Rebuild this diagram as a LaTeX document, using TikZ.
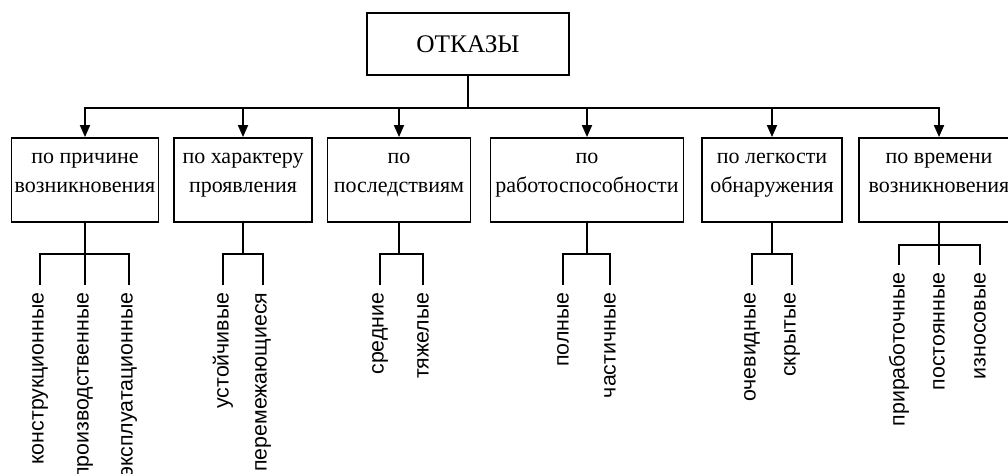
\documentclass[tikz,border=0pt]{standalone}
\usepackage{fontspec}
\setmainfont{Liberation Serif}
\newfontfamily\leaffont{Liberation Sans}
\usetikzlibrary{arrows.meta}

\begin{document}
\begin{tikzpicture}[x=0.75pt, y=-0.75pt, line width=1.4pt,
  cat/.style={draw, inner sep=0pt, minimum height=63pt, text depth=11pt, align=center, font=\fontsize{16.5}{22}\selectfont},
  leaf/.style={rotate=90, anchor=east, inner sep=5pt, font=\leaffont\fontsize{16}{19}\selectfont},
  arr/.style={-{Triangle[width=7.5pt,length=9pt]}}]
  \useasboundingbox (0,0) rectangle (1008,474);
  % root
  \node[draw, minimum width=151.5pt, minimum height=46.5pt, font=\fontsize{19}{22}\selectfont] (otkazy) at (468,44) {ОТКАЗЫ};
  % categories
  \node[cat, minimum width=110.25pt] (prich) at (85,180) {по причине\\возникновения};
  \node[cat, minimum width=103.5pt] (harakt) at (243,180) {по характеру\\проявления};
  \node[cat, minimum width=107.25pt] (posl) at (399,180) {по\\последствиям};
  \node[cat, minimum width=144.75pt] (rabot) at (587,180) {по\\работоспособности};
  \node[cat, minimum width=105pt] (legk) at (772,180) {по легкости\\обнаружения};
  \node[cat, minimum width=120pt] (vrem) at (939,180) {по времени\\возникновения};
  \draw (otkazy.south) -- ++(0,32) coordinate (bus);
  \draw[arr] (bus) -| (prich.north);
  \draw[arr] (bus) -| (harakt.north);
  \draw[arr] (bus) -| (posl.north);
  \draw[arr] (bus) -| (rabot.north);
  \draw[arr] (bus) -| (legk.north);
  \draw[arr] (bus) -| (vrem.north);
  % leaves
  \node[leaf] (kons) at (40,285) {конструкционные};
  \node[leaf] (proizv) at (85,285) {производственные};
  \node[leaf] (ekspl) at (129,285) {эксплуатационные};
  \node[leaf] (ust) at (223,285) {устойчивые};
  \node[leaf] (perem) at (263,285) {перемежающиеся};
  \node[leaf] (sred) at (380,285) {средние};
  \node[leaf] (tyazh) at (423,285) {тяжелые};
  \node[leaf] (poln) at (563,285) {полные};
  \node[leaf] (chast) at (610,285) {частичные};
  \node[leaf] (ochev) at (752,285) {очевидные};
  \node[leaf] (skryt) at (792,285) {скрытые};
  \node[leaf] (prirab) at (899,265) {приработочные};
  \node[leaf] (postoy) at (939,265) {постоянные};
  \node[leaf] (iznos) at (980,265) {износовые};
  \draw (prich.south) -- ++(0,31) coordinate (b1);
  \draw (b1) -| (kons.east); \draw (b1) -- (proizv.east); \draw (b1) -| (ekspl.east);
  \draw (harakt.south) -- ++(0,31) coordinate (b2);
  \draw (b2) -| (ust.east); \draw (b2) -| (perem.east);
  \draw (posl.south) -- ++(0,31) coordinate (b3);
  \draw (b3) -| (sred.east); \draw (b3) -| (tyazh.east);
  \draw (rabot.south) -- ++(0,31) coordinate (b4);
  \draw (b4) -| (poln.east); \draw (b4) -| (chast.east);
  \draw (legk.south) -- ++(0,31) coordinate (b5);
  \draw (b5) -| (ochev.east); \draw (b5) -| (skryt.east);
  \draw (vrem.south) -- ++(0,22) coordinate (b6);
  \draw (b6) -| (prirab.east); \draw (b6) -- (postoy.east); \draw (b6) -| (iznos.east);
\end{tikzpicture}
\end{document}
